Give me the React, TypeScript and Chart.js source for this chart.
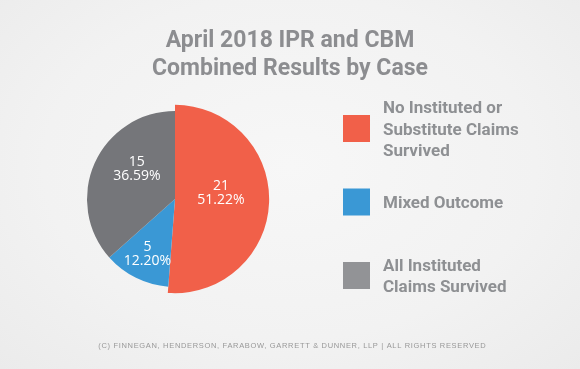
import React, { useEffect, useRef } from "react";
import { Chart, registerables } from "chart.js";

Chart.register(...registerables);

// ---- data ----
const titleLines = ["April 2018 IPR and CBM", "Combined Results by Case"];
const categoryLines = [
  ["No Instituted or", "Substitute Claims", "Survived"],
  ["Mixed Outcome"],
  ["All Instituted", "Claims Survived"],
];
const caseCounts = [21, 5, 15];
const footerText =
  "(C) FINNEGAN, HENDERSON, FARABOW, GARRETT & DUNNER, LLP | ALL RIGHTS RESERVED";

// ---- style ----
const sliceColors = ["#F16049", "#3A98D5", "#75767A"];
const swatchColors = ["#F16049", "#3A98D5", "#929396"];
const radiusScale = [1.07, 1, 1];
const labelNudge = [
  [2, -8],
  [-8, 16],
  [2, -12],
];
const W = 580;
const H = 369;

const decorPlugin = {
  id: "decor",
  beforeDatasetsDraw(chart: any) {
    const meta = chart.getDatasetMeta(0);
    const a = chart.chartArea;
    const base = Math.min(a.right - a.left, a.bottom - a.top) / 2;
    meta.data.forEach((arc: any, i: number) => {
      arc.outerRadius = base * radiusScale[i];
    });
  },
  afterDatasetsDraw(chart: any) {
    const ctx = chart.ctx;
    const meta = chart.getDatasetMeta(0);
    const a = chart.chartArea;
    const base = Math.min(a.right - a.left, a.bottom - a.top) / 2;
    const total = caseCounts.reduce((s, v) => s + v, 0);
    ctx.save();
    ctx.fillStyle = "#FFFFFF";
    ctx.font = "14px 'Open Sans'";
    ctx.textAlign = "center";
    ctx.textBaseline = "middle";
    meta.data.forEach((arc: any, i: number) => {
      const mid = (arc.startAngle + arc.endAngle) / 2;
      const r = base * 0.5;
      const x = arc.x + Math.cos(mid) * r + labelNudge[i][0];
      const y = arc.y + Math.sin(mid) * r + labelNudge[i][1];
      const pct = ((caseCounts[i] / total) * 100).toFixed(2) + "%";
      ctx.fillText(String(caseCounts[i]), x, y - 7);
      ctx.fillText(pct, x, y + 7);
    });
    ctx.restore();
  },
  afterDraw(chart: any) {
    const ctx = chart.ctx;
    ctx.save();
    // title
    ctx.fillStyle = "#8C8D90";
    ctx.textAlign = "center";
    ctx.textBaseline = "alphabetic";
    ctx.font = "bold 23px Roboto";
    titleLines.forEach((t, i) => ctx.fillText(t, W / 2, 47 + i * 28));
    // legend
    ctx.textAlign = "left";
    ctx.font = "bold 17px Roboto";
    categoryLines.forEach((lines, i) => {
      const cy = 128.5 + i * 73.5;
      ctx.fillStyle = swatchColors[i];
      ctx.fillRect(343, cy - 13.5, 27, 27);
      ctx.fillStyle = "#8E9093";
      const lh = 21.5;
      const first = cy + 6 - ((lines.length - 1) * lh) / 2;
      lines.forEach((ln, j) => ctx.fillText(ln, 383, first + j * lh));
    });
    // footer
    ctx.fillStyle = "#989898";
    ctx.font = "7.5px 'Liberation Sans'";
    const natural = ctx.measureText(footerText).width;
    const ls = (388 - natural) / footerText.length;
    (ctx as any).letterSpacing = ls + "px";
    ctx.textAlign = "center";
    ctx.fillText(footerText, 292 + ls / 2, 348);
    ctx.restore();
  },
};

export default function App() {
  const ref = useRef<HTMLCanvasElement | null>(null);
  useEffect(() => {
    document.body.style.margin = "0";
    const canvas = ref.current!;
    const chart = new Chart(canvas, {
      type: "pie",
      data: {
        labels: categoryLines.map((l) => l.join(" ")),
        datasets: [
          {
            data: caseCounts,
            backgroundColor: sliceColors,
            borderWidth: 0,
            clip: false as any,
          },
        ],
      },
      options: {
        responsive: false,
        animation: false,
        devicePixelRatio: 1,
        layout: { padding: { left: 87, right: 317, top: 111, bottom: 82 } },
        plugins: {
          legend: { display: false },
          title: { display: false },
          tooltip: { enabled: false },
        },
        events: [],
      },
      plugins: [decorPlugin],
    });
    return () => chart.destroy();
  }, []);
  return (
    <div
      style={{
        width: W,
        height: H,
        background:
          "radial-gradient(ellipse at 50% 45%, #F7F7F7 0%, #F2F2F2 60%, #EBEBEB 100%)",
      }}
    >
      <canvas ref={ref} width={W} height={H} style={{ display: "block" }} />
    </div>
  );
}
